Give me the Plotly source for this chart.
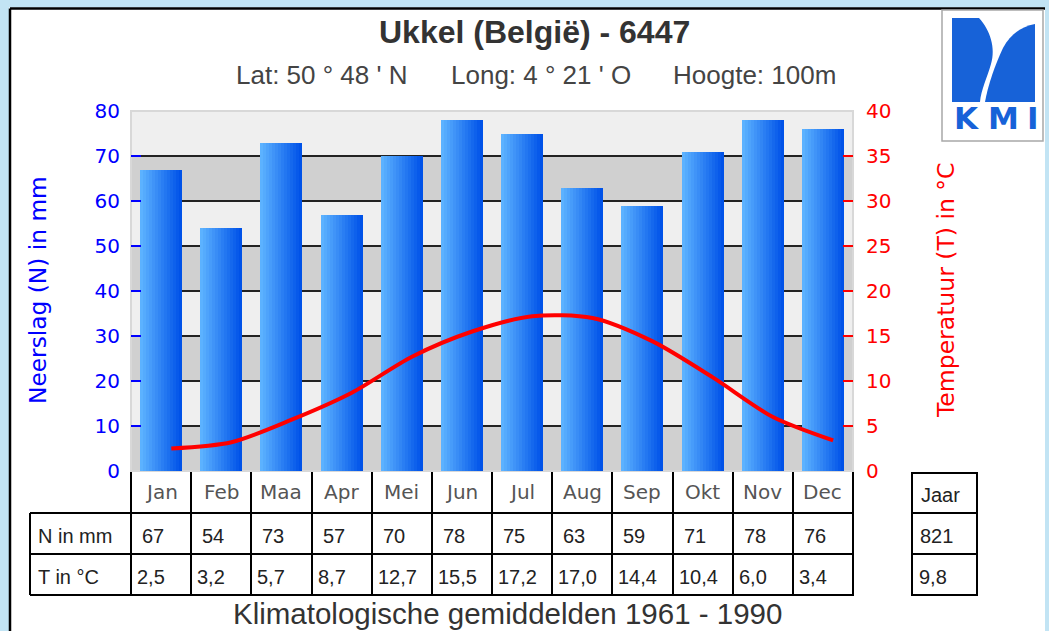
import plotly.graph_objects as go

# ---------------- data ----------------
MONTHS = ["Jan", "Feb", "Maa", "Apr", "Mei", "Jun", "Jul", "Aug", "Sep", "Okt", "Nov", "Dec"]
NEERSLAG = [67, 54, 73, 57, 70, 78, 75, 63, 59, 71, 78, 76]
TEMP = [2.5, 3.2, 5.7, 8.7, 12.7, 15.5, 17.2, 17.0, 14.4, 10.4, 6.0, 3.4]
JAAR_N = 821
JAAR_T = 9.8
Y1_TICKS = [0, 10, 20, 30, 40, 50, 60, 70, 80]
Y2_TICKS = [0, 5, 10, 15, 20, 25, 30, 35, 40]

TITLE = "Ukkel (België) - 6447"
SUB = ["Lat: 50 ° 48 ' N", "Long: 4 ° 21 ' O", "Hoogte: 100m"]
CAPTION = "Klimatologische gemiddelden 1961 - 1990"

# ---------------- geometry ----------------
W, H = 1049, 631
ML, MR, MT, MB = 131, 196, 111, 160
PW, PH = W - ML - MR, H - MT - MB
BOTTOM = H - MB


def px(x):
    return (x - ML) / PW


def py(y):
    return (BOTTOM - y) / PH


def fmt(v):
    return f"{v:.1f}".replace(".", ",")


def lerp(c0, c1, t):
    return "rgb(%d,%d,%d)" % tuple(round(a + (b - a) * t) for a, b in zip(c0, c1))


fig = go.Figure()

# gradient bars built from strips
NS = 14
BW = 0.70
step = BW / NS
C0 = (92, 178, 255)
C1 = (0, 82, 232)
for i in range(NS):
    t = i / (NS - 1)
    w = step * 1.6 if i < NS - 1 else step
    fig.add_bar(x=MONTHS, y=NEERSLAG, width=w, offset=-BW / 2 + i * step,
                marker=dict(color=lerp(C0, C1, t), line=dict(width=0)),
                hoverinfo="skip", showlegend=False)

fig.add_scatter(x=MONTHS, y=TEMP, xaxis="x2", yaxis="y2", mode="lines",
                line=dict(color="#ff0000", width=4, shape="spline", smoothing=0.8),
                hoverinfo="skip", showlegend=False)

shapes = []
BLUE_BG = "#c2e4f4"
# outer light-blue frame
shapes.append(dict(type="rect", xref="paper", yref="paper", x0=px(-5), x1=px(9), y0=py(-5), y1=py(H + 5),
                   fillcolor=BLUE_BG, line=dict(width=0), layer="below"))
shapes.append(dict(type="rect", xref="paper", yref="paper", x0=px(-5), x1=px(W + 5), y0=py(-5), y1=py(7.5),
                   fillcolor=BLUE_BG, line=dict(width=0), layer="below"))
shapes.append(dict(type="rect", xref="paper", yref="paper", x0=px(1045), x1=px(W + 5), y0=py(-5), y1=py(H + 5),
                   fillcolor=BLUE_BG, line=dict(width=0), layer="below"))
shapes.append(dict(type="line", xref="paper", yref="paper", x0=px(10), x1=px(1045), y0=py(8.5), y1=py(8.5),
                   line=dict(color="black", width=2.5), layer="below"))
shapes.append(dict(type="line", xref="paper", yref="paper", x0=px(10), x1=px(10), y0=py(8.5), y1=py(H + 5),
                   line=dict(color="black", width=2.5), layer="below"))

# alternating bands in the plot
for k in range(0, 80, 20):
    shapes.append(dict(type="rect", xref="paper", yref="y", x0=0, x1=1, y0=k, y1=k + 10,
                       fillcolor="#d0d0d0", line=dict(width=0), layer="below"))
shapes.append(dict(type="rect", xref="paper", yref="paper", x0=0, x1=1, y0=0, y1=1,
                   fillcolor="rgba(0,0,0,0)", line=dict(color="#d8d8d8", width=2), layer="below"))

# table lines
for yy in (513, 554, 595):
    shapes.append(dict(type="line", xref="paper", yref="paper", x0=px(30), x1=px(854), y0=py(yy), y1=py(yy),
                       line=dict(color="black", width=2)))
shapes.append(dict(type="line", xref="paper", yref="paper", x0=px(30), x1=px(30), y0=py(513), y1=py(595),
                   line=dict(color="black", width=2)))
# Jaar box
shapes.append(dict(type="rect", xref="paper", yref="paper", x0=px(912), x1=px(977), y0=py(473), y1=py(595),
                   line=dict(color="black", width=2)))
for yy in (513, 554):
    shapes.append(dict(type="line", xref="paper", yref="paper", x0=px(912), x1=px(977), y0=py(yy), y1=py(yy),
                       line=dict(color="black", width=2)))

# KMI logo
shapes.append(dict(type="rect", xref="paper", yref="paper", x0=px(942), x1=px(1043), y0=py(10), y1=py(141),
                   fillcolor="white", line=dict(color="#a8a8a8", width=1.5)))


def path(cmds):
    out = []
    for c in cmds:
        op, pts = c[0], c[1:]
        s = op
        s += " ".join("%.5f,%.5f" % (px(pts[j]), py(pts[j + 1])) for j in range(0, len(pts), 2))
        out.append(s)
    return " ".join(out) + " Z"


LOGO = "#1762d8"
shapes.append(dict(type="path", xref="paper", yref="paper", fillcolor=LOGO, line=dict(width=0),
                   path=path([("M", 952, 18), ("L", 979, 18), ("C", 990, 30, 996, 48, 991, 64),
                              ("C", 987, 78, 981, 90, 980, 102), ("L", 952, 102)])))
shapes.append(dict(type="path", xref="paper", yref="paper", fillcolor=LOGO, line=dict(width=0),
                   path=path([("M", 985, 102), ("C", 988, 85, 995, 65, 1003, 48),
                              ("C", 1010, 35, 1020, 27, 1035, 24), ("L", 1035, 102)])))

ann = []
SANS = "Liberation Sans"
DJ = "DejaVu Sans"
ann.append(dict(text=TITLE, x=px(534.5), y=py(32), font=dict(family=SANS, size=32, color="#333333", weight="bold")))
for t, cx in zip(SUB, (321.5, 540.5, 754)):
    ann.append(dict(text=t, x=px(cx), y=py(75.5), font=dict(family=SANS, size=26, color="#444444")))
ann.append(dict(text=CAPTION, x=px(507.5), y=py(613), font=dict(family=SANS, size=29.5, color="#333333")))
ann.append(dict(text="Neerslag (N) in mm", x=px(37), y=py(290), textangle=-90,
                font=dict(family=DJ, size=23.3, color="#0000ff")))
ann.append(dict(text="Temperatuur (T) in °C", x=px(946), y=py(290), textangle=-90,
                font=dict(family=DJ, size=23.5, color="#ff0000")))
for t, cx in zip("KMI", (966, 1003, 1033)):
    ann.append(dict(text=t, x=px(cx), y=py(117.5), font=dict(family=DJ, size=31, color=LOGO, weight="bold")))

for m, n, tv in zip(MONTHS, NEERSLAG, TEMP):
    ann.append(dict(text=m, x=m, xref="x", y=py(492), font=dict(family=DJ, size=20, color="#555555")))
    ann.append(dict(text=str(n), x=m, xref="x", xanchor="left", xshift=-21, y=py(535.5),
                    font=dict(family=SANS, size=20, color="#222222")))
    ann.append(dict(text=fmt(tv), x=m, xref="x", xanchor="left", xshift=-26, y=py(577),
                    font=dict(family=SANS, size=20, color="#222222")))
ann.append(dict(text="N in mm", x=px(36), xanchor="left", y=py(535.5), font=dict(family=SANS, size=20, color="#222222")))
ann.append(dict(text="T in °C", x=px(36), xanchor="left", y=py(577), font=dict(family=SANS, size=20, color="#222222")))
ann.append(dict(text="Jaar", x=px(919), xanchor="left", y=py(495), font=dict(family=SANS, size=20, color="#222222")))
ann.append(dict(text=str(JAAR_N), x=px(918), xanchor="left", y=py(536), font=dict(family=SANS, size=20, color="#222222")))
ann.append(dict(text=fmt(JAAR_T), x=px(917), xanchor="left", y=py(577), font=dict(family=SANS, size=20, color="#222222")))

for a in ann:
    a.setdefault("xref", "paper")
    a.setdefault("yref", "paper")
    a.setdefault("xanchor", "center")
    a.setdefault("yanchor", "middle")
    a["showarrow"] = False

fig.update_layout(
    width=W, height=H,
    margin=dict(l=ML, r=MR, t=MT, b=MB, pad=0),
    paper_bgcolor="white", plot_bgcolor="#efefef",
    barmode="overlay", bargap=0,
    showlegend=False,
    shapes=shapes, annotations=ann,
    xaxis=dict(type="category", categoryorder="array", categoryarray=MONTHS, range=[-0.5, 11.5],
               showticklabels=False, ticks="outside", tickson="boundaries", ticklen=124,
               tickwidth=2, tickcolor="black", showgrid=False, zeroline=False, showline=False,
               fixedrange=True),
    xaxis2=dict(type="category", categoryorder="array", categoryarray=MONTHS, overlaying="x",
                range=[-0.67, 11.33], visible=False, anchor="y2", fixedrange=True),
    yaxis=dict(range=[0, 80], tickmode="array", tickvals=Y1_TICKS, ticks="inside", ticklen=10,
               tickwidth=2, tickcolor="#0000ff", tickfont=dict(family=DJ, size=20, color="#0000ff"),
               showgrid=True, gridcolor="#222222", gridwidth=2, zeroline=False, showline=False,
               ticklabelstandoff=10, fixedrange=True),
    yaxis2=dict(range=[0, 40], tickmode="array", tickvals=Y2_TICKS, overlaying="y", side="right",
                anchor="x2", ticks="inside", ticklen=10, tickwidth=2, tickcolor="#ff0000",
                tickfont=dict(family=DJ, size=20, color="#ff0000"), showgrid=False, zeroline=False,
                showline=False, ticklabelstandoff=12, fixedrange=True),
)

fig.write_html("out.html", config={"displayModeBar": False},
               post_script="document.body.style.margin='0';document.body.style.overflow='hidden';")
